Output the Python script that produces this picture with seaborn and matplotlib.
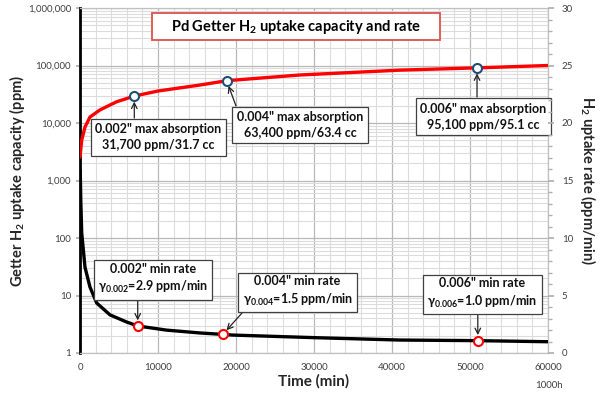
import matplotlib
matplotlib.use("Agg")
import matplotlib.pyplot as plt
import matplotlib.ticker as mticker
from matplotlib.patches import Rectangle
import numpy as np
import pandas as pd
import seaborn as sns

# ---- data ----
rate_time = [30, 100, 220, 640, 1280, 2140, 3850, 6000, 7400, 11100, 15400, 18200, 19600, 30000, 41000, 51000, 60000]
rate_ppm = [1500, 450, 122, 31, 14, 7.4, 4.6, 3.45, 2.95, 2.5, 2.23, 2.11, 2.05, 1.85, 1.68, 1.64, 1.57]

cap_time = [0, 220, 640, 1280, 2560, 4700, 6960, 10000, 15400, 18800, 28200, 41000, 50900, 60000]
cap_ppm = [2560, 5040, 8500, 12700, 16900, 23400, 29400, 36000, 45800, 54400, 68400, 83000, 91000, 100000]

cap_mark_time = [6960, 18800, 50900]
cap_mark_ppm = [29400, 54400, 91000]
rate_mark_time = [7400, 18300, 51000]
rate_mark_ppm = [2.95, 2.1, 1.64]

cap_labels = ['0.002" max absorption\n31,700 ppm/31.7 cc',
              '0.004" max absorption\n63,400 ppm/63.4 cc',
              '0.006" max absorption\n95,100 ppm/95.1 cc']
rate_labels = ['0.002" min rate\n$\\gamma_{0.002}$=2.9 ppm/min',
               '0.004" min rate\n$\\gamma_{0.004}$=1.5 ppm/min',
               '0.006" min rate\n$\\gamma_{0.006}$=1.0 ppm/min']

left_ticks = [1, 10, 100, 1000, 10000, 100000, 1000000]
x_ticks = [0, 10000, 20000, 30000, 40000, 50000, 60000]
right_ticks = [0, 5, 10, 15, 20, 25, 30]

title = "Pd Getter H$_2$ uptake capacity and rate"

# ---- style ----
sns.set_theme(style="white")
plt.rcParams['font.family'] = ['Lato', 'DejaVu Sans']
plt.rcParams['mathtext.default'] = 'regular'

fig = plt.figure(figsize=(6.03, 3.94), dpi=100)
ax = fig.add_axes([80/603, 41/394, 468/603, 345/394])

df_rate = pd.DataFrame({"t": rate_time, "v": rate_ppm})
df_cap = pd.DataFrame({"t": cap_time, "v": cap_ppm})

sns.lineplot(data=df_cap, x="t", y="v", ax=ax, color="#FF0000", lw=2.4, zorder=4)
sns.lineplot(data=df_rate, x="t", y="v", ax=ax, color="#000000", lw=2.4, zorder=4)

ax.set_yscale("log")
ax.set_ylim(1, 1e6)
ax.set_xlim(0, 60000)

ax.set_yticks(left_ticks)
ax.yaxis.set_major_formatter(mticker.FuncFormatter(lambda v, p: f"{v:,.0f}"))
ax.yaxis.set_minor_locator(mticker.LogLocator(base=10, subs=np.arange(2, 10)))
ax.yaxis.set_minor_formatter(mticker.NullFormatter())
ax.set_xticks(x_ticks)
ax.xaxis.set_minor_locator(mticker.MultipleLocator(2000))

ax.grid(True, which="major", color="#b8b8b8", lw=0.9, zorder=0)
ax.grid(True, which="minor", color="#dcdcdc", lw=0.8, zorder=0)
ax.set_axisbelow(True)

for s in ["top", "right", "bottom"]:
    ax.spines[s].set_color("#c0c0c0")
    ax.spines[s].set_linewidth(0.9)
ax.spines["left"].set_color("#000000")
ax.spines["left"].set_linewidth(2.0)

ax.tick_params(axis="both", which="both", labelsize=7, labelcolor="#404040",
               color="#b0b0b0", direction="out")
ax.tick_params(axis="y", which="major", length=3)
ax.tick_params(axis="y", which="minor", length=0)
ax.tick_params(axis="x", which="both", length=4, pad=3)

ax.set_xlabel("Time (min)", fontsize=11, fontweight="bold", labelpad=2)
ax.set_ylabel("Getter H$_2$ uptake capacity (ppm)", fontsize=10.5, fontweight="bold",
              va="center")
ax.yaxis.set_label_coords(-0.135, 0.5)

# markers
ax.plot(cap_mark_time, cap_mark_ppm, ls="none", marker="o", ms=6.5, mfc="white",
        mec="#1F4E79", mew=1.5, zorder=6)
ax.plot(rate_mark_time, rate_mark_ppm, ls="none", marker="o", ms=6.5, mfc="white",
        mec="#FF0000", mew=1.5, zorder=6)

# right axis
ax2 = ax.twinx()
ax2.set_ylim(0, 30)
ax2.set_yticks(right_ticks)
ax2.yaxis.set_minor_locator(mticker.MultipleLocator(1))
ax2.tick_params(axis="y", which="both", labelsize=7, labelcolor="#404040",
                color="#b0b0b0", direction="out")
ax2.tick_params(axis="y", which="major", length=4, pad=6)
ax2.tick_params(axis="y", which="minor", length=3)
for s in ax2.spines.values():
    s.set_visible(False)
ax2.grid(False)
ax2.set_ylabel("H$_2$ uptake rate (ppm/min)", fontsize=10.5, fontweight="bold",
               rotation=270, va="center")
ax2.yaxis.set_label_coords(1.085, 0.5)

# title box
ax.add_patch(Rectangle((0.154, 0.907), 0.615, 0.0785, transform=ax.transAxes,
                       fc="white", ec="#D9534F", lw=1.3, zorder=7))
ax.text(0.4615, 0.946, title, transform=ax.transAxes, ha="center", va="center",
        fontsize=10.5, fontweight="bold", color="#000000", zorder=8)

box = dict(boxstyle="square,pad=0.35", fc="white", ec="#404040", lw=0.9)
arrow = dict(arrowstyle="->", color="#222222", lw=0.9, shrinkA=0, shrinkB=4,
             mutation_scale=10)

# capacity annotations
cap_text_xy = [(10000, 5600), (28200, 9230), (51700, 12970)]
cap_arrow_from = [(6960, 12200), (20000, 19800), (50900, 28300)]
for lab, txy, afrom, mx, my in zip(cap_labels, cap_text_xy, cap_arrow_from,
                                   cap_mark_time, cap_mark_ppm):
    ax.annotate("", xy=(mx, my), xytext=afrom, arrowprops=arrow, zorder=5)
    ax.text(txy[0], txy[1], lab, ha="center", va="center", fontsize=9,
            fontweight="bold", color="#111111", bbox=box, zorder=8,
            linespacing=1.4)

# rate annotations
rate_text_xy = [(9360, 19.4), (27900, 11.7), (51600, 10.8)]
rate_arrow_from = [(7400, 9.0), (20770, 4.96), (51000, 4.77)]
for lab, txy, afrom, mx, my in zip(rate_labels, rate_text_xy, rate_arrow_from,
                                   rate_mark_time, rate_mark_ppm):
    ax.annotate("", xy=(mx, my), xytext=afrom, arrowprops=arrow, zorder=5)
    ax.text(txy[0], txy[1], lab, ha="center", va="center", fontsize=9,
            fontweight="bold", color="#111111", bbox=box, zorder=8,
            linespacing=1.4)

fig.text(549/603, 1 - 386/394, "1000h", ha="center", va="center", fontsize=7,
         color="#404040")

fig.savefig("out.png", dpi=100)
